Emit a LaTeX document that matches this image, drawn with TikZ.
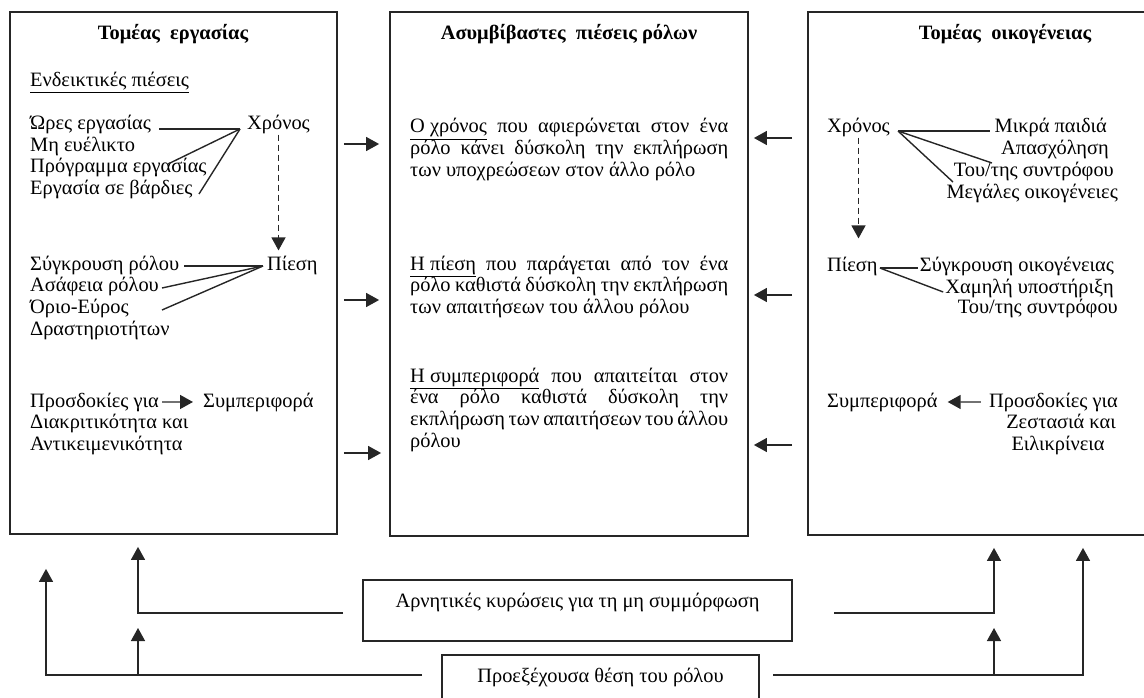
\documentclass[tikz,border=0pt]{standalone}
\usepackage{fontspec}
\setmainfont{Liberation Serif}
\usetikzlibrary{arrows.meta,calc}

\begin{document}
\begin{tikzpicture}[x=1pt,y=-1pt,
  every node/.style={font=\fontsize{20.4}{21.7}\selectfont, inner sep=0pt, text=black},
  txt/.style={anchor=base west},
  txtr/.style={anchor=base east},
  txtc/.style={anchor=base},
  ttl/.style={anchor=base, font=\fontsize{20.4}{21.7}\selectfont\bfseries},
  para/.style={anchor=base west, text width=318pt, align=justify},
  frame/.style={draw=black!85, line width=1.8pt},
  link/.style={draw=black!85, line width=1.4pt},
  arr/.style={link, -{Triangle[width=14pt,length=13pt]}},
  dasharr/.style={arr, dash pattern=on 6pt off 4pt}
]
\useasboundingbox (0,0) rectangle (1144,698);

% ---------- three main panels ----------
\node[frame, minimum width=327pt, minimum height=522pt] (work) at (173.5,273) {};
\node[frame, minimum width=358pt, minimum height=524pt] (mid)  at (569,274) {};
\node[frame, minimum width=342pt, minimum height=523pt] (fam)  at (979,273.5) {};

% ---------- work domain ----------
\node[ttl] (workT) at (173,40) {Τομέας\ \ εργασίας};
\node[txt] (indic) at (30,87) {\underline{Ενδεικτικές πιέσεις}};

\node[txt] (ores) at (30,130) {Ώρες εργασίας};
\node[txt] (meel) at (30,152) {Μη ευέλικτο};
\node[txt] (prog) at (30,173) {Πρόγραμμα εργασίας};
\node[txt] (vard) at (30,195) {Εργασία σε βάρδιες};
\node[txt] (xronL) at (247,130) {Χρόνος};

\coordinate (xlApex) at (240,129);
\coordinate (oresEnd) at ([xshift=8pt]ores.base east |- xlApex);
\coordinate (meelEnd) at (168,164);
\coordinate (vardEnd) at (199,194);
\draw[link] (oresEnd) -- (xlApex);
\draw[link] (meelEnd) -- (xlApex);
\draw[link] (vardEnd) -- (xlApex);

\node[txt] (pieL) at (267,270) {Πίεση};
\draw[dasharr, shorten >=5pt] (xronL.south) -- (xronL.south |- pieL.north);

\node[txt] (sygL) at (30,270) {Σύγκρουση ρόλου};
\node[txt] (asaf) at (30,291.5) {Ασάφεια ρόλου};
\node[txt] (orio) at (30,313) {Όριο-Εύρος};
\node[txt] (drast) at (30,335) {Δραστηριοτήτων};

\coordinate (plApex) at (263,266);
\coordinate (sygLEnd) at ([xshift=5pt]sygL.base east |- plApex);
\coordinate (asafEnd) at ([xshift=3pt]asaf.base east |- 0,288);
\coordinate (orioEnd) at (162,310);
\draw[link] (sygLEnd) -- (plApex);
\draw[link] (asafEnd) -- (plApex);
\draw[link] (orioEnd) -- (plApex);

\node[txt] (prosL) at (30,407) {Προσδοκίες για};
\node[txt] (behL) at (203,407) {Συμπεριφορά};
\node[txt] (diak) at (30,428.5) {Διακριτικότητα και};
\node[txt] (antik) at (30,450) {Αντικειμενικότητα};
\draw[arr, shorten <=3pt, shorten >=10pt] (prosL.east) -- (behL.west);

% ---------- incompatible role pressures ----------
\node[ttl] (midT) at (569,40) {Ασυμβίβαστες\ \ πιέσεις ρόλων};
\node[para] (p1) at (410,133) {\underline{Ο χρόνος} που αφιερώνεται στον ένα\linebreak
  ρόλο κάνει δύσκολη την εκπλήρωση\linebreak
  των υποχρεώσεων στον άλλο ρόλο};
\node[para] (p2) at (410,270) {\underline{Η πίεση} που παράγεται από τον ένα\linebreak
  ρόλο καθιστά δύσκολη την εκπλήρωση\linebreak
  των απαιτήσεων του άλλου ρόλου};
\node[para] (p3) at (410,382) {\underline{Η συμπεριφορά} που απαιτείται στον\linebreak
  ένα ρόλο καθιστά δύσκολη την\linebreak
  εκπλήρωση των απαιτήσεων του άλλου\linebreak
  ρόλου};

% ---------- family domain ----------
\node[ttl] (famT) at (1005,40) {Τομέας\ \ οικογένειας};
\node[txt] (xronR) at (827,133) {Χρόνος};
\node[txtr] (mikra) at (1107,133) {Μικρά παιδιά};
\node[txtr] (apas) at (1109,155) {Απασχόληση};
\node[txtr] (synA) at (1114,176.5) {Του/της συντρόφου};
\node[txtr] (meg) at (1118,198) {Μεγάλες οικογένειες};

\coordinate (xrApex) at (898,131);
\coordinate (mikraStart) at ([xshift=-4pt]mikra.base west |- xrApex);
\coordinate (synAEnd) at (992,163);
\coordinate (megEnd) at (953,182);
\draw[link] (xrApex) -- (mikraStart);
\draw[link] (xrApex) -- (synAEnd);
\draw[link] (xrApex) -- (megEnd);

\node[txt] (pieR) at (827,271) {Πίεση};
\draw[dasharr, shorten >=18pt] (xronR.south) -- (xronR.south |- pieR.north);

\node[txtr] (sygR) at (1114,271) {Σύγκρουση οικογένειας};
\node[txtr] (xamil) at (1114,293) {Χαμηλή υποστήριξη};
\node[txtr] (synB) at (1118,313) {Του/της συντρόφου};

\coordinate (prApex) at ([xshift=2pt]pieR.base east |- 0,268);
\coordinate (sygRStart) at ([xshift=-2pt]sygR.base west |- prApex);
\coordinate (xamilStart) at ([xshift=-2pt]xamil.base west |- 0,292);
\draw[link] (prApex) -- (sygRStart);
\draw[link] (prApex) -- (xamilStart);

\node[txt] (behR) at (827,407) {Συμπεριφορά};
\node[txtr] (prosR) at (1118,407) {Προσδοκίες για};
\node[txtc] (zest) at (1061,428.5) {Ζεστασιά και};
\node[txtc] (eilik) at (1058,450) {Ειλικρίνεια};
\draw[arr, shorten <=8pt, shorten >=10pt] (prosR.west) -- (behR.east);

% ---------- arrows into the central panel ----------
\draw[arr] ([xshift=6pt]work.east |- 0,144) -- ([xshift=-10pt]mid.west |- 0,144);
\draw[arr] ([xshift=6pt]work.east |- 0,300) -- ([xshift=-10pt]mid.west |- 0,300);
\draw[arr] ([xshift=6pt]work.east |- 0,453) -- ([xshift=-8pt]mid.west |- 0,453);
\draw[arr] ([xshift=-15pt]fam.west |- 0,138) -- ([xshift=5pt]mid.east |- 0,138);
\draw[arr] ([xshift=-15pt]fam.west |- 0,295) -- ([xshift=5pt]mid.east |- 0,295);
\draw[arr] ([xshift=-15pt]fam.west |- 0,445) -- ([xshift=5pt]mid.east |- 0,445);

% ---------- sanctions and role salience ----------
\node[frame, minimum width=429pt, minimum height=61pt] (negbox) at (577.5,610.5) {};
\node[txtc] (negtxt) at (577.5,607) {Αρνητικές κυρώσεις για τη μη συμμόρφωση};
\node[frame, minimum width=317pt, minimum height=60pt] (posbox) at (600.5,685) {};
\node[txtc] (postxt) at (600.5,682) {Προεξέχουσα θέση του ρόλου};

\coordinate (negL) at (343,613);
\coordinate (negLc) at (138,613);
\coordinate (posL) at (422,675);
\coordinate (posLc) at (46,675);
\coordinate (negR) at (834,613);
\coordinate (negRc) at (994,613);
\coordinate (posR) at (773,675);
\coordinate (posRc) at (1083,675);

\draw[arr, shorten >=12pt] (negL) -- (negLc) -- (negLc |- work.south);
\draw[arr, shorten >=34pt] (posL) -- (posLc) -- (posLc |- work.south);
\draw[arr] (negLc |- posL) -- (negLc |- 0,628);

\draw[arr, shorten >=12pt] (negR) -- (negRc) -- (negRc |- fam.south);
\draw[arr, shorten >=12pt] (posR) -- (posRc) -- (posRc |- fam.south);
\draw[arr] (negRc |- posR) -- (negRc |- 0,628);
\end{tikzpicture}
\end{document}
